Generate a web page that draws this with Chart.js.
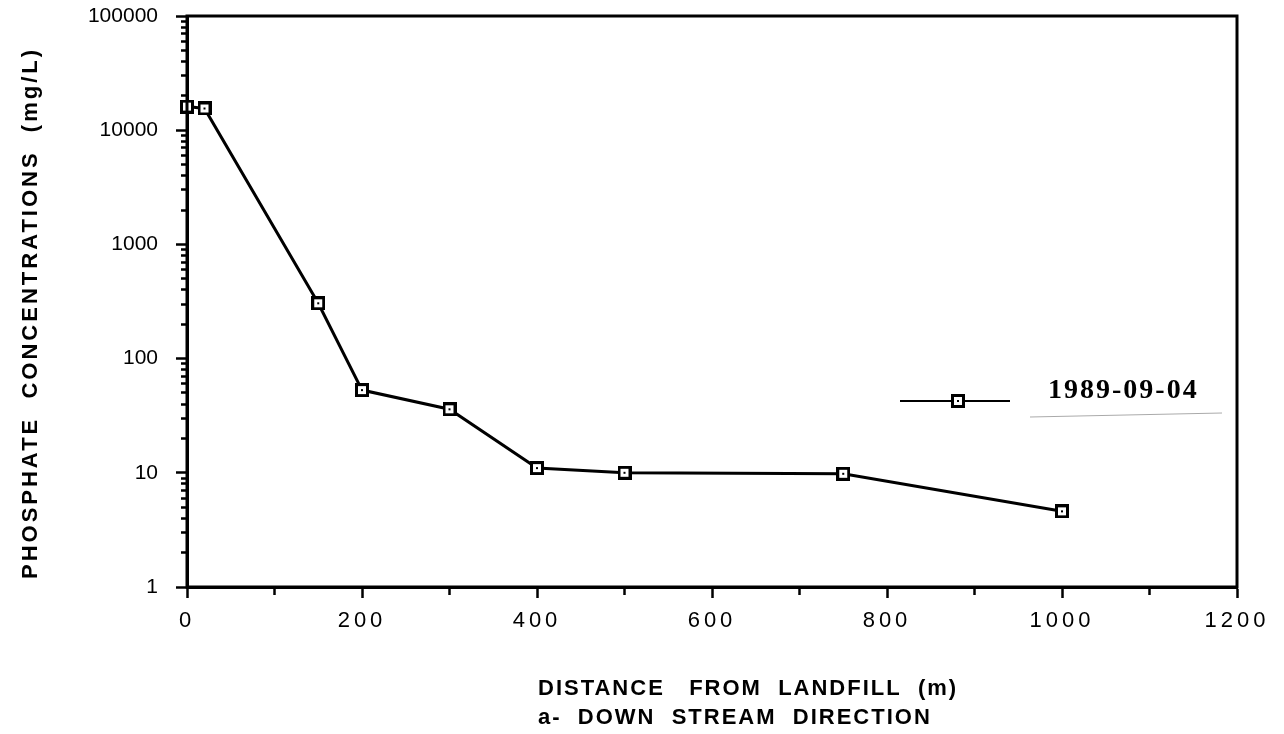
<!DOCTYPE html>
<html>
<head>
<meta charset="utf-8">
<script src="https://cdn.jsdelivr.net/npm/chart.js@4"></script>
<style>
  html, body { margin: 0; padding: 0; background: #fff; }
  #wrap { width: 1284px; height: 734px; }
</style>
</head>
<body>
<div id="wrap"><canvas id="phosChart" width="1284" height="734"></canvas></div>
<script>
// ---- data ----
const distance = [0, 20, 150, 200, 300, 400, 500, 750, 1000];      // m
const phosphate = [16100, 15500, 305, 53, 36, 11, 10, 9.8, 4.6];   // mg/L
const seriesLabel = "1989-09-04";

// tick labels
const xLabelTicks = [0, 200, 400, 600, 800, 1000, 1200];
const yLabelTicks = [1, 10, 100, 1000, 10000, 100000];

const yTitle = "PHOSPHATE  CONCENTRATIONS  (mg/L)";
const xTitle = ["DISTANCE   FROM  LANDFILL  (m)", "a-  DOWN  STREAM  DIRECTION"];

// square marker with a dot in the middle
function makeMarker() {
    const c = document.createElement("canvas");
    c.width = 14; c.height = 14;
    const g = c.getContext("2d");
    g.fillStyle = "#000"; g.fillRect(0, 0, 14, 14);
    g.fillStyle = "#fff"; g.fillRect(3, 3, 8, 8);
    g.fillStyle = "#000"; g.fillRect(6, 6, 2, 2);
    return c;
}
const marker = makeMarker();

const isDecade = v => Math.abs(Math.log10(v) - Math.round(Math.log10(v))) < 1e-9;

// frame, axis titles and the floating legend
const decorations = {
    id: "decorations",
    beforeDraw(chart) { chart.ctx.letterSpacing = "0px"; },
    afterDatasetsDraw(chart) { chart.ctx.letterSpacing = "4px"; }, // x tick labels (z:1) are spaced
    afterDraw(chart) {
        const { ctx, chartArea: a } = chart;
        ctx.save();
        ctx.letterSpacing = "0px";
        ctx.strokeStyle = "#000";
        ctx.lineWidth = 3;
        ctx.strokeRect(a.left, a.top, a.right - a.left, a.bottom - a.top);

        // y title
        ctx.fillStyle = "#000";
        ctx.font = "bold 22px 'Liberation Sans', Arial, sans-serif";
        ctx.letterSpacing = "3px";
        ctx.save();
        ctx.translate(31, 313);
        ctx.rotate(-Math.PI / 2);
        ctx.textAlign = "center";
        ctx.textBaseline = "middle";
        ctx.fillText(yTitle, 0, 0);
        ctx.restore();

        // x title, two left-aligned lines
        ctx.letterSpacing = "2px";
        ctx.textAlign = "left";
        ctx.textBaseline = "alphabetic";
        ctx.fillText(xTitle[0], 538, 695);
        ctx.fillText(xTitle[1], 538, 724);

        // legend
        const ds = chart.data.datasets[0];
        const ly = 401;
        ctx.letterSpacing = "0px";
        ctx.strokeStyle = ds.borderColor;
        ctx.lineWidth = 2;
        ctx.beginPath();
        ctx.moveTo(900, ly);
        ctx.lineTo(1010, ly);
        ctx.stroke();
        ctx.drawImage(marker, 958 - 7, ly - 7);
        ctx.font = "bold 28px 'Liberation Serif', 'Times New Roman', serif";
        ctx.letterSpacing = "2px";
        ctx.fillText(ds.label, 1048, 398);
        ctx.strokeStyle = "#aaa";
        ctx.lineWidth = 1;
        ctx.beginPath();
        ctx.moveTo(1030, 417);
        ctx.lineTo(1222, 413);
        ctx.stroke();
        ctx.restore();
    }
};

new Chart(document.getElementById("phosChart"), {
    type: "line",
    data: {
        datasets: [{
            label: seriesLabel,
            data: distance.map((d, i) => ({ x: d, y: phosphate[i] })),
            borderColor: "#000",
            borderWidth: 3,
            pointStyle: marker,
            tension: 0,
            fill: false,
            clip: false
        }]
    },
    options: {
        responsive: false,
        animation: false,
        layout: { padding: { left: 0, right: 47, top: 16, bottom: 0 } },
        plugins: { legend: { display: false }, tooltip: { enabled: false } },
        scales: {
            x: {
                type: "linear",
                min: 0,
                max: 1200,
                afterFit(scale) { scale.height = 147; },
                border: { color: "#000", width: 3 },
                grid: {
                    drawOnChartArea: false,
                    tickLength: 11,
                    tickWidth: 2.5,
                    tickColor: "#000",
                    tickBorderDash: c => (c.tick && !xLabelTicks.includes(c.tick.value)) ? [6, 100] : []
                },
                ticks: {
                    stepSize: 100,
                    autoSkip: false,
                    maxRotation: 0,
                    padding: 10,
                    z: 1,
                    color: "#000",
                    font: { family: "'Liberation Sans', Arial, sans-serif", size: 22 },
                    callback: v => xLabelTicks.includes(v) ? String(v) : ""
                }
            },
            y: {
                type: "logarithmic",
                min: 1,
                max: 100000,
                afterBuildTicks(scale) {
                    const t = [];
                    for (let e = 0; e < 5; e++) {
                        for (let m = 1; m < 10; m++) t.push({ value: m * Math.pow(10, e) });
                    }
                    t.push({ value: 100000 });
                    scale.ticks = t;
                },
                afterFit(scale) {
                    scale.width = 187;
                    scale.paddingTop = 0;
                    scale.paddingBottom = 0;
                },
                border: { color: "#000", width: 3 },
                grid: {
                    drawOnChartArea: false,
                    tickLength: 11,
                    tickWidth: 2.5,
                    tickColor: "#000",
                    tickBorderDash: c => (c.tick && !isDecade(c.tick.value)) ? [0, 5, 6, 100] : []
                },
                ticks: {
                    autoSkip: false,
                    padding: 18,
                    color: "#000",
                    font: { family: "'Liberation Sans', Arial, sans-serif", size: 21 },
                    callback: v => yLabelTicks.includes(v) ? String(v) : ""
                }
            }
        }
    },
    plugins: [decorations]
});
</script>
</body>
</html>
